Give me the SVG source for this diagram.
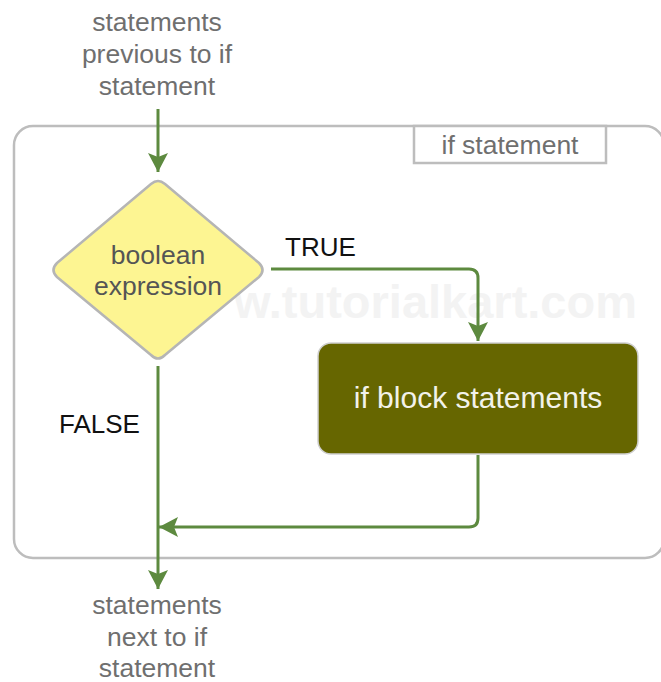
<svg xmlns="http://www.w3.org/2000/svg" width="661" height="682" viewBox="0 0 661 682">
  <style>
    text { font-family: "Liberation Sans", Arial, sans-serif; }
    .grey { fill: #6f6f6f; font-size: 26.5px; text-anchor: middle; }
    .lbl { fill: #111111; font-size: 26px; }
    .wire { fill: none; stroke: #5d8a3f; stroke-width: 3; }
    .frame { fill: none; stroke: #bdbdbd; stroke-width: 2.5; }
  </style>
  <defs>
    <marker id="arrow" viewBox="-20 -11 22 22" refX="0" refY="0" markerWidth="22" markerHeight="22" markerUnits="userSpaceOnUse" orient="auto">
      <path d="M0,0 L-19,-10 L-15,0 L-19,10 Z" fill="#5d8a3f"/>
    </marker>
  </defs>

  <rect width="661" height="682" fill="#ffffff"/>

  <!-- container for the if statement -->
  <g id="container">
    <rect class="frame" x="14" y="126" width="650" height="432" rx="19"/>
    <rect x="414" y="126" width="192" height="37" fill="#ffffff" stroke="#bdbdbd" stroke-width="2.5"/>
    <text class="grey" x="510" y="154">if statement</text>
  </g>

  <!-- faint watermark -->
  <text x="637" y="318" text-anchor="end" font-size="47" font-weight="bold" fill="#f3f3f3">w.tutorialkart.com</text>

  <!-- connectors -->
  <g id="connectors">
    <path class="wire" d="M158,109 L158,172" marker-end="url(#arrow)"/>
    <path class="wire" d="M271,269 L469,269 Q478,269 478,278 L478,341" marker-end="url(#arrow)"/>
    <path class="wire" d="M478,455 L478,518 Q478,527 469,527 L159,527" marker-end="url(#arrow)"/>
    <path class="wire" d="M158,366 L158,589" marker-end="url(#arrow)"/>
  </g>

  <g id="start">
    <text class="grey" x="157" y="31">statements</text>
    <text class="grey" x="157" y="63">previous to if</text>
    <text class="grey" x="157" y="95">statement</text>
  </g>

  <g id="condition">
    <path d="M151,184 Q158,178 165,184 L259,263 Q266,270 259,277 L165,355 Q158,362 151,355 L57,277 Q50,270 57,263 Z" fill="#fdf592" stroke="#b5b5b5" stroke-width="2.5"/>
    <text x="158" y="264" font-size="26.5" fill="#555555" text-anchor="middle">boolean</text>
    <text x="158" y="295" font-size="26.5" fill="#555555" text-anchor="middle">expression</text>
  </g>

  <g id="label-true">
    <text class="lbl" x="285" y="256">TRUE</text>
  </g>
  <g id="label-false">
    <text class="lbl" x="59" y="433">FALSE</text>
  </g>

  <g id="if-block">
    <rect x="318" y="343" width="320" height="111" rx="13" fill="#666600" stroke="#cfcfcf" stroke-width="1.5"/>
    <text x="478" y="408" font-size="30" fill="#f2f2ea" text-anchor="middle">if block statements</text>
  </g>

  <g id="end">
    <text class="grey" x="157" y="614">statements</text>
    <text class="grey" x="157" y="646">next to if</text>
    <text class="grey" x="157" y="677">statement</text>
  </g>
</svg>
